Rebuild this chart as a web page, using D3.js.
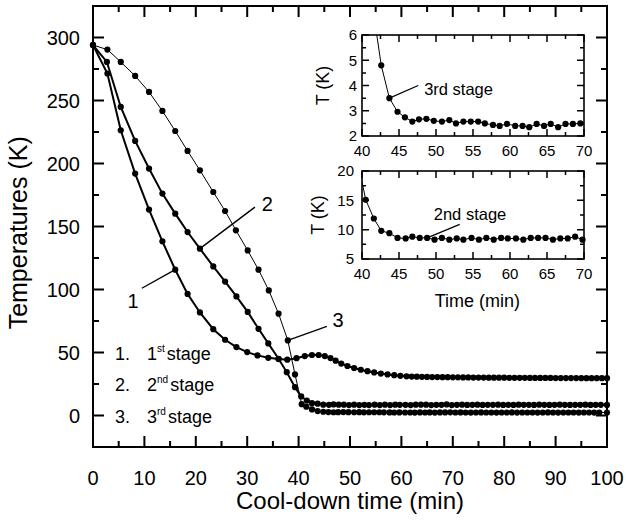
<!DOCTYPE html>
<html>
<head>
<meta charset="utf-8">
<script src="https://cdn.jsdelivr.net/npm/d3@7"></script>
<style>
  body { margin: 0; background: #fff; }
  svg { display: block; font-family: "Liberation Sans", Arial, sans-serif; }
</style>
</head>
<body>
<svg id="chart" width="626" height="524"></svg>
<script>
// cool-down curves (min, K)
const stage1Time = [0, 2.8, 5.4, 8.2, 10.9, 13.5, 16.0, 18.4, 20.8, 23.4,
  25.7, 27.9, 30.0, 32.0, 34.1, 36.1, 37.8, 39.6, 41.2, 42.6,
  43.9, 45.1, 46.2, 47.2, 48.3, 49.5, 50.8, 52.1, 53.4, 54.7,
  56.0, 57.3, 58.6, 59.8, 61, 62, 63, 64, 65, 66, 67, 68, 69, 70,
  71, 72, 73, 74, 75, 76, 77, 78, 79, 80, 81, 82, 83, 84, 85,
  86, 87, 88, 89, 90, 91, 92, 93, 94, 95, 96, 97, 98, 99, 100];
const stage1Temp = [294, 271.4, 226.4, 192.0, 163.4, 138.2, 115.7, 96.5, 81.8, 68.5,
  60.1, 54.3, 50.3, 47.7, 45.8, 44.8, 44.3, 45.5, 47.2, 48.0,
  48.0, 47.2, 45.6, 43.5, 41.2, 39.3, 37.7, 36.3, 35.2, 34.2,
  33.3, 32.6, 32.0, 31.5, 31.1, 30.9, 30.8, 30.7, 30.6, 30.5, 30.5, 30.4, 30.4, 30.3,
  30.3, 30.2, 30.2, 30.1, 30.1, 30.1, 30.0, 30.0, 30.0, 30.0, 29.9, 29.9, 29.9, 29.9, 29.8,
  29.8, 29.8, 29.8, 29.8, 29.7, 29.7, 29.7, 29.7, 29.7, 29.6, 29.6, 29.6, 29.6, 29.6, 29.6];

const stage2Time = [0, 2.7, 5.4, 8.2, 10.9, 13.5, 16.0, 18.4, 20.8, 23.4,
  25.7, 27.9, 30.1, 32.2, 34.1, 36.1, 37.7, 39.3,
  40.5, 41.6, 42.6, 43.7, 44.8, 45.9, 46.8, 47.8, 48.8, 49.8,
  50.8, 51.8, 52.8, 53.7, 54.8, 55.8, 56.8, 57.8, 58.8, 59.7,
  60.8, 61.8, 62.8, 63.8, 64.8, 65.8, 66.8, 67.8, 68.8, 69.8,
  70.8, 71.8, 72.8, 73.8, 74.8, 75.8, 76.8, 77.8, 78.8, 79.8,
  80.8, 81.8, 82.8, 83.8, 84.8, 85.8, 86.8, 87.8, 88.8, 89.8,
  90.8, 91.8, 92.8, 93.8, 94.8, 95.8, 96.8, 97.8, 98.8, 100];
const stage2Temp = [294, 280.6, 244.9, 217.9, 196.0, 176.1, 160.2, 145.6, 132.4, 118.3,
  106.3, 94.5, 82.2, 68.8, 57.2, 45.0, 34.4, 22.5,
  15.1, 11.9, 9.8, 9.4, 8.6, 8.5, 8.8, 8.6, 8.6, 8.3,
  8.6, 8.3, 8.5, 8.3, 8.6, 8.3, 8.6, 8.3, 8.6, 8.5,
  8.5, 8.3, 8.6, 8.6, 8.6, 8.3, 8.5, 8.5, 8.8, 8.3,
  8.5, 8.6, 8.4, 8.5, 8.6, 8.4, 8.5, 8.5, 8.6, 8.4,
  8.5, 8.4, 8.6, 8.5, 8.5, 8.4, 8.6, 8.5, 8.4, 8.5,
  8.6, 8.5, 8.4, 8.5, 8.5, 8.6, 8.4, 8.5, 8.5, 8.4];

const stage3Time = [0, 2.8, 5.4, 8.2, 10.9, 13.5, 16.0, 18.4, 20.8, 23.4,
  25.7, 27.8, 30.1, 32.2, 34.2, 36.1, 37.9, 39.3, 40.6, 41.5,
  42.6, 43.7, 44.8, 45.8, 46.8, 47.7, 48.7, 49.7, 50.8, 51.8,
  52.7, 53.7, 54.7, 55.7, 56.6, 57.7, 58.6, 59.6, 60.7, 61.7,
  62.6, 63.6, 64.6, 65.5, 66.5, 67.5, 68.5, 69.5,
  70.5, 71.5, 72.5, 73.5, 74.5, 75.5, 76.5, 77.5, 78.5, 79.5,
  80.5, 81.5, 82.5, 83.5, 84.5, 85.5, 86.5, 87.5, 88.5, 89.5,
  90.5, 91.5, 92.5, 93.5, 94.5, 95.5, 96.5, 97.5, 98.5, 100];
const stage3Temp = [294, 290.4, 280.6, 269.5, 256.8, 241.7, 225.8, 210.0, 194.6, 177.4,
  162.3, 147.0, 131.0, 115.7, 99.3, 80.8, 59.6, 32.6, 9.0, 7.0,
  4.8, 3.5, 2.96, 2.74, 2.57, 2.66, 2.68, 2.6, 2.57, 2.63,
  2.5, 2.57, 2.57, 2.57, 2.5, 2.44, 2.4, 2.48, 2.4, 2.4,
  2.35, 2.48, 2.4, 2.48, 2.35, 2.48, 2.48, 2.5,
  2.4, 2.45, 2.4, 2.35, 2.4, 2.45, 2.4, 2.4, 2.35, 2.4,
  2.4, 2.45, 2.35, 2.4, 2.4, 2.4, 2.35, 2.4, 2.45, 2.4,
  2.35, 2.4, 2.4, 2.4, 2.35, 2.4, 2.4, 2.35, 2.4, 2.4];

// ticks
const mainXTicks = [0, 10, 20, 30, 40, 50, 60, 70, 80, 90, 100];
const mainXMinor = [5, 15, 25, 35, 45, 55, 65, 75, 85, 95];
const mainYTicks = [0, 50, 100, 150, 200, 250, 300];
const mainYMinor = [-25, 25, 75, 125, 175, 225, 275];
const insetXTicks = [40, 45, 50, 55, 60, 65, 70];
const insetXMinor = [42.5, 47.5, 52.5, 57.5, 62.5, 67.5];
const inset3YTicks = [2, 3, 4, 5, 6];
const inset3YMinor = [2.5, 3.5, 4.5, 5.5];
const inset2YTicks = [5, 10, 15, 20];
const inset2YMinor = [7.5, 12.5, 17.5];

const legendNames = [["1.", "1", "st"], ["2.", "2", "nd"], ["3.", "3", "rd"]];

const svg = d3.select("#chart");

function zipPoints(ts, vs) {
  return ts.map((t, i) => ({ t: t, v: vs[i] }));
}
const series = [
  { pts: zipPoints(stage1Time, stage1Temp), w: 2 },
  { pts: zipPoints(stage2Time, stage2Temp), w: 2 },
  { pts: zipPoints(stage3Time, stage3Temp), w: 1 }
];

const pendingTicks = [];

// labels on bottom and left, frame; ticks are drawn at the very end
function drawAxes(xs, ys, o) {
  const [x0, x1] = xs.range();
  const [y0, y1] = ys.range();
  const g = svg.append("g");

  g.selectAll(null)
    .data(o.xMajor)
    .enter()
    .append("text")
    .attr("x", (d) => xs(d))
    .attr("y", y0 + o.xPad)
    .attr("text-anchor", "middle")
    .attr("font-size", o.fontSize)
    .text((d) => d);
  g.selectAll(null)
    .data(o.yMajor)
    .enter()
    .append("text")
    .attr("x", x0 - o.yPad)
    .attr("y", (d) => ys(d))
    .attr("dy", "0.36em")
    .attr("text-anchor", "end")
    .attr("font-size", o.fontSize)
    .text((d) => d);

  g.append("rect")
    .attr("x", x0).attr("y", y1)
    .attr("width", x1 - x0).attr("height", y0 - y1)
    .attr("fill", "none").attr("stroke", "#000").attr("stroke-width", o.frameWidth);

  pendingTicks.push({ xs: xs, ys: ys, o: o });
}

// inward ticks on all four sides, one path per frame
function drawTicks(xs, ys, o) {
  const [x0, x1] = xs.range();
  const [y0, y1] = ys.range();
  const p = d3.path();
  o.xMajor.map((v) => [v, o.majorLen]).concat(o.xMinor.map((v) => [v, o.minorLen]))
    .forEach(([v, len]) => {
      p.moveTo(xs(v), y0); p.lineTo(xs(v), y0 - len);
      p.moveTo(xs(v), y1); p.lineTo(xs(v), y1 + len);
    });
  o.yMajor.map((v) => [v, o.majorLen]).concat(o.yMinor.map((v) => [v, o.minorLen]))
    .forEach(([v, len]) => {
      p.moveTo(x0, ys(v)); p.lineTo(x0 + len, ys(v));
      p.moveTo(x1, ys(v)); p.lineTo(x1 - len, ys(v));
    });
  svg.append("path")
    .attr("d", p.toString())
    .attr("fill", "none")
    .attr("stroke", "#000")
    .attr("stroke-width", o.tickWidth);
}

function drawSeries(xs, ys, list, clipId, lineWidth) {
  const line = d3.line().x((d) => xs(d.t)).y((d) => ys(d.v));
  const [xa, xb] = xs.domain();
  const [ya, yb] = ys.domain();
  list.forEach((s) => {
    svg.append("path")
      .datum(s.pts)
      .attr("d", line)
      .attr("fill", "none")
      .attr("stroke", "#000")
      .attr("stroke-width", lineWidth ? lineWidth : s.w)
      .attr("clip-path", clipId ? `url(#${clipId})` : null);
    svg.append("g")
      .selectAll("circle")
      .data(s.pts.filter((d) => d.t >= xa && d.t <= xb && d.v >= Math.min(ya, yb) && d.v <= Math.max(ya, yb)))
      .enter()
      .append("circle")
      .attr("cx", (d) => xs(d.t))
      .attr("cy", (d) => ys(d.v))
      .attr("r", 3.1)
      .attr("fill", "#000");
  });
}

function leader(xs, ys, a, b, w) {
  svg.append("line")
    .attr("x1", xs(a[0])).attr("y1", ys(a[1]))
    .attr("x2", xs(b[0])).attr("y2", ys(b[1]))
    .attr("stroke", "#000").attr("stroke-width", w);
}

// ---------- main plot ----------
const x = d3.scaleLinear().domain([0, 100]).range([93, 607]);
const y = d3.scaleLinear().domain([-25, 325]).range([447, 6]);

drawAxes(x, y, {
  xMajor: mainXTicks, xMinor: mainXMinor, yMajor: mainYTicks, yMinor: mainYMinor,
  majorLen: 11, minorLen: 6, tickWidth: 2, frameWidth: 2, fontSize: 20, xPad: 38, yPad: 13
});
drawSeries(x, y, series, null, null);

// curve labels
const curveLabels = [
  { text: "1", at: [7.8, 91], from: [9.5, 101], to: [16.0, 115.7] },
  { text: "2", at: [33.9, 168], from: [20.8, 132.4], to: [31.5, 165.4] },
  { text: "3", at: [47.7, 76], from: [37.9, 59.6], to: [45.5, 70.7] }
];
curveLabels.forEach((c) => {
  leader(x, y, c.from, c.to, 1.4);
  svg.append("text")
    .attr("x", x(c.at[0])).attr("y", y(c.at[1]) + 7)
    .attr("text-anchor", "middle")
    .attr("font-size", 20)
    .text(c.text);
});

// legend
const legendY = [50, 25, 0];
legendNames.forEach((n, i) => {
  const t = svg.append("text")
    .attr("x", 115).attr("y", y(legendY[i]) + 7)
    .attr("font-size", 18);
  t.append("tspan").text(n[0]);
  t.append("tspan").attr("x", 147).text(n[1]);
  t.append("tspan").attr("font-size", 10).attr("dy", -8).text(n[2]);
  t.append("tspan").attr("dy", 8).attr("dx", 2).text("stage");
});

// axis titles
svg.append("text")
  .attr("x", x(50)).attr("y", 509)
  .attr("text-anchor", "middle")
  .attr("font-size", 24)
  .text("Cool-down time (min)");
svg.append("text")
  .attr("transform", `translate(27,${y(145)}) rotate(-90)`)
  .attr("text-anchor", "middle")
  .attr("font-size", 25)
  .text("Temperatures (K)");

// ---------- insets ----------
const defs = svg.append("defs");
function inset(id, box, yDomain, yMajor, yMinor, note) {
  const xs = d3.scaleLinear().domain([40, 70]).range([box.left, box.right]);
  const ys = d3.scaleLinear().domain(yDomain).range([box.bottom, box.top]);
  defs.append("clipPath").attr("id", id)
    .append("rect")
    .attr("x", box.left).attr("y", box.top)
    .attr("width", box.right - box.left).attr("height", box.bottom - box.top);
  drawAxes(xs, ys, {
    xMajor: insetXTicks, xMinor: insetXMinor, yMajor: yMajor, yMinor: yMinor,
    majorLen: 7, minorLen: 4, tickWidth: 1.5, frameWidth: 1.6, fontSize: 15, xPad: 20, yPad: box.yPad
  });
  drawSeries(xs, ys, [note.series], id, 1);
  leader(xs, ys, note.from, note.to, 1.2);
  svg.append("text")
    .attr("x", xs(note.at[0])).attr("y", ys(note.at[1]) + 6)
    .attr("font-size", 16.5)
    .text(note.text);
  svg.append("text")
    .attr("transform", `translate(${box.left - box.titleGap},${(box.top + box.bottom) / 2}) rotate(-90)`)
    .attr("text-anchor", "middle")
    .attr("font-size", 18)
    .text("T (K)");
  return xs;
}

inset("clip3", { left: 362, right: 584, top: 35, bottom: 136, yPad: 5, titleGap: 33 }, [2, 6], inset3YTicks, inset3YMinor,
  { series: series[2], text: "3rd stage", at: [48.4, 3.85], from: [43.7, 3.5], to: [47.6, 4.0] });
const xs2 = inset("clip2", { left: 362, right: 584, top: 171, bottom: 259, yPad: 8, titleGap: 38 }, [5, 20], inset2YTicks, inset2YMinor,
  { series: series[1], text: "2nd stage", at: [49.7, 12.6], from: [48.8, 8.6], to: [53.2, 10.9] });

svg.append("text")
  .attr("x", xs2(55.6)).attr("y", 307)
  .attr("text-anchor", "middle")
  .attr("font-size", 18)
  .text("Time (min)");

// ticks last, on top of everything
pendingTicks.forEach((p) => drawTicks(p.xs, p.ys, p.o));
</script>
</body>
</html>
